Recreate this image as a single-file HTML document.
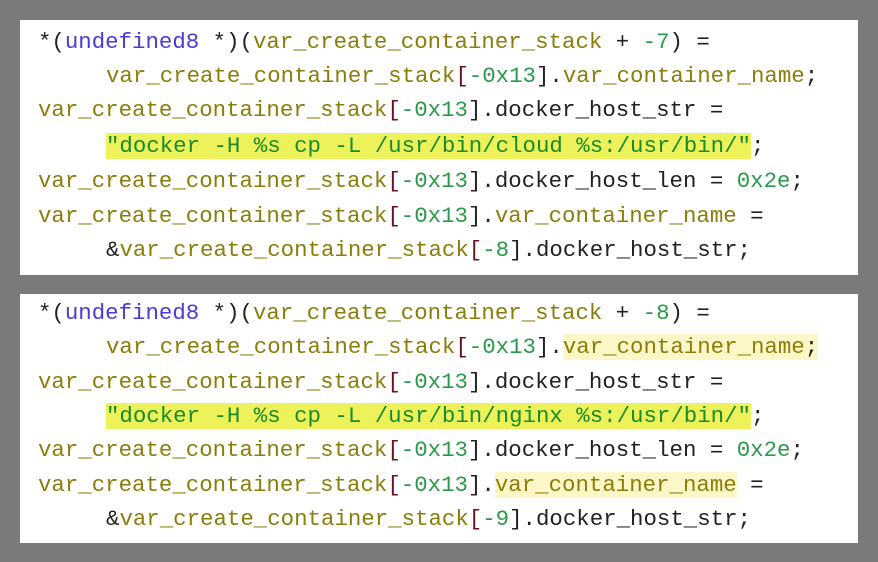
<!DOCTYPE html>
<html><head><style>
body{margin:0;width:878px;height:562px;background:#7a7a7a;position:relative;overflow:hidden}
.p{position:absolute;left:20px;width:838px;background:#fff}
.l{position:absolute;white-space:pre;font-family:"Liberation Mono",monospace;font-size:22.4px;line-height:30px;color:#222}
.v{color:#8a7d0a}.n{color:#2a9a4a}.b{color:#4a3ad8}.s{color:#1a8a2a;background:#eef25a}.h{background:#fdf7c8}.r{color:#6a1020}
</style></head><body>
<div class="p" style="top:20px;height:255px"></div>
<div class="p" style="top:294px;height:249px"></div>
<div class="l" style="left:38px;top:27px">*(<span class="b">undefined8</span> *)(<span class="v">var_create_container_stack</span> + <span class="n">-7</span>) =</div>
<div class="l" style="left:106px;top:61px"><span class="v">var_create_container_stack</span><span class="r">[</span><span class="n">-0x13</span>].<span class="v">var_container_name</span>;</div>
<div class="l" style="left:38px;top:95px"><span class="v">var_create_container_stack</span><span class="r">[</span><span class="n">-0x13</span>].docker_host_str =</div>
<div class="l" style="left:106px;top:131px"><span class="s">"docker -H %s cp -L /usr/bin/cloud %s:/usr/bin/"</span>;</div>
<div class="l" style="left:38px;top:166px"><span class="v">var_create_container_stack</span><span class="r">[</span><span class="n">-0x13</span>].docker_host_len = <span class="n">0x2e</span>;</div>
<div class="l" style="left:38px;top:201px"><span class="v">var_create_container_stack</span><span class="r">[</span><span class="n">-0x13</span>].<span class="v">var_container_name</span> =</div>
<div class="l" style="left:106px;top:235px">&amp;<span class="v">var_create_container_stack</span><span class="r">[</span><span class="n">-8</span>].docker_host_str;</div>

<div class="l" style="left:38px;top:298px">*(<span class="b">undefined8</span> *)(<span class="v">var_create_container_stack</span> + <span class="n">-8</span>) =</div>
<div class="l" style="left:106px;top:332px"><span class="v">var_create_container_stack</span><span class="r">[</span><span class="n">-0x13</span>].<span class="v h">var_container_name</span><span class="h">;</span></div>
<div class="l" style="left:38px;top:367px"><span class="v">var_create_container_stack</span><span class="r">[</span><span class="n">-0x13</span>].docker_host_str =</div>
<div class="l" style="left:106px;top:401px"><span class="s">"docker -H %s cp -L /usr/bin/nginx %s:/usr/bin/"</span>;</div>
<div class="l" style="left:38px;top:435px"><span class="v">var_create_container_stack</span><span class="r">[</span><span class="n">-0x13</span>].docker_host_len = <span class="n">0x2e</span>;</div>
<div class="l" style="left:38px;top:470px"><span class="v">var_create_container_stack</span><span class="r">[</span><span class="n">-0x13</span>].<span class="v h">var_container_name</span> =</div>
<div class="l" style="left:106px;top:504px">&amp;<span class="v">var_create_container_stack</span><span class="r">[</span><span class="n">-9</span>].docker_host_str;</div>
</body></html>
